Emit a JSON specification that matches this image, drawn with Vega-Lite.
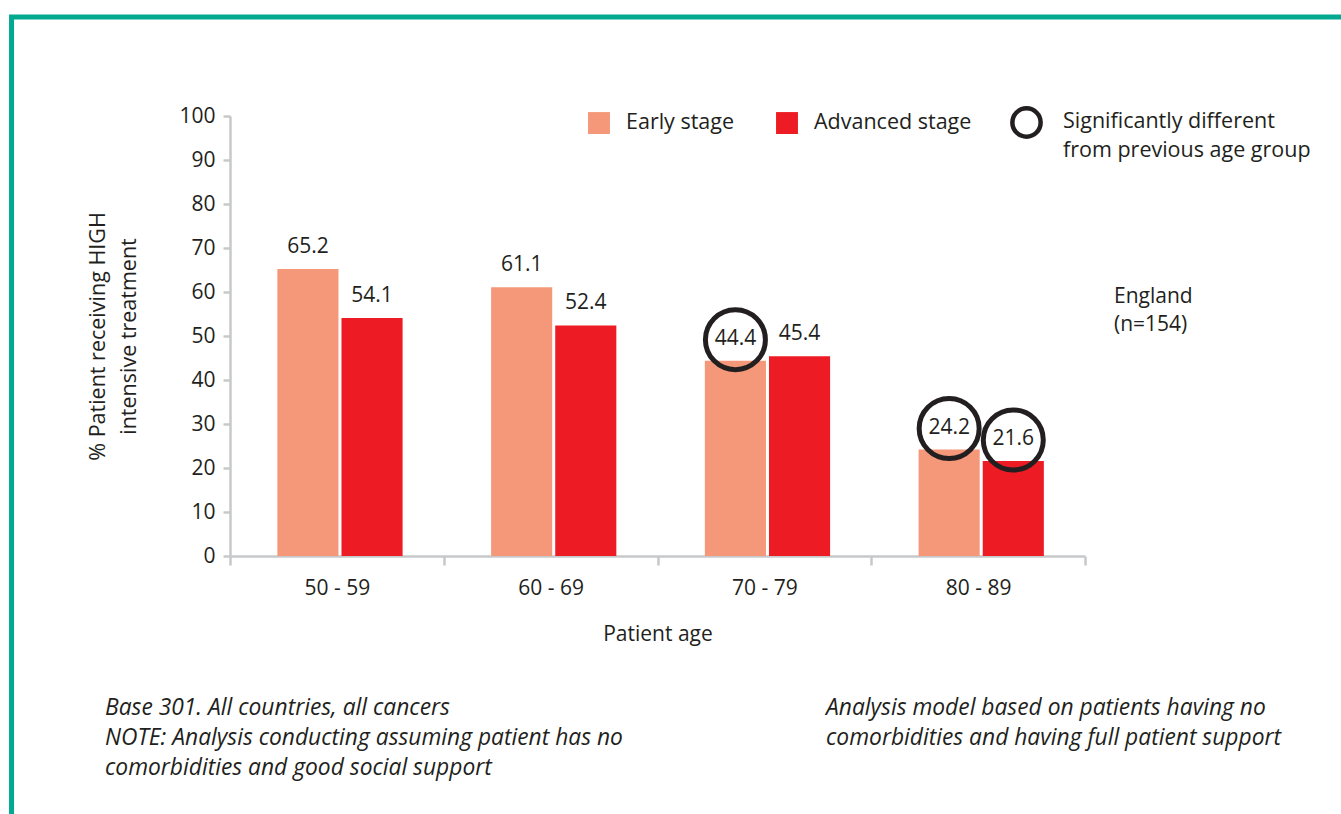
{
  "$schema": "https://vega.github.io/schema/vega-lite/v6.json",
  "width": 855,
  "height": 440,
  "autosize": {"type": "none"},
  "padding": {"left": 230, "top": 116, "right": 256, "bottom": 258},
  "background": "white",
  "config": {
    "font": "Open Sans",
    "view": {"stroke": null},
    "text": {"font": "Open Sans", "color": "#231F20"},
    "axis": {
      "domainColor": "#C7C8CA", "domainWidth": 2.5, "tickColor": "#C7C8CA", "tickWidth": 2.5,
      "labelColor": "#231F20", "titleColor": "#231F20", "labelFont": "Open Sans", "titleFont": "Open Sans",
      "titleFontWeight": "normal", "grid": false
    },
    "legend": {"labelColor": "#231F20", "labelFont": "Open Sans", "titleColor": "#231F20", "titleFont": "Open Sans"}
  },
  "datasets": {
    "bars": [
      {"age": "50 - 59", "stage": "Early stage", "value": 65.2, "sig": false},
      {"age": "50 - 59", "stage": "Advanced stage", "value": 54.1, "sig": false},
      {"age": "60 - 69", "stage": "Early stage", "value": 61.1, "sig": false},
      {"age": "60 - 69", "stage": "Advanced stage", "value": 52.4, "sig": false},
      {"age": "70 - 79", "stage": "Early stage", "value": 44.4, "sig": true},
      {"age": "70 - 79", "stage": "Advanced stage", "value": 45.4, "sig": false},
      {"age": "80 - 89", "stage": "Early stage", "value": 24.2, "sig": true},
      {"age": "80 - 89", "stage": "Advanced stage", "value": 21.6, "sig": true}
    ],
    "notes": [
      {"id": "left", "note": "Base 301. All countries, all cancers\nNOTE: Analysis conducting assuming patient has no\ncomorbidities and good social support"},
      {"id": "right", "note": "Analysis model based on patients having no\ncomorbidities and having full patient support"},
      {"id": "country", "note": "England\n(n=154)"}
    ],
    "frame": [{"part": "frame"}]
  },
  "resolve": {"scale": {"x": "independent", "y": "independent"}},
  "layer": [
    {
      "layer": [
        {
          "data": {"name": "frame"},
          "mark": {"type": "rect", "fill": "transparent", "stroke": "#00A98F", "strokeWidth": 5, "clip": false},
          "encoding": {
            "x": {"datum": -0.2555, "type": "quantitative", "scale": {"domain": [0, 1]}, "axis": null},
            "x2": {"datum": 1.6},
            "y": {"datum": 122.5, "type": "quantitative", "scale": {"domain": [0, 100]}, "axis": null},
            "y2": {"datum": -80}
          }
        },
        {
          "data": {"name": "notes"},
          "transform": [{"filter": "datum.id == 'left'"}],
          "mark": {"type": "text", "align": "left", "baseline": "top", "fontSize": 22.8, "fontStyle": "italic", "lineBreak": "\n", "lineHeight": 30},
          "encoding": {
            "x": {"datum": -0.1462, "type": "quantitative", "scale": {"domain": [0, 1]}, "axis": null},
            "y": {"datum": -32, "type": "quantitative", "scale": {"domain": [0, 100]}, "axis": null},
            "text": {"field": "note", "type": "nominal"}
          }
        },
        {
          "data": {"name": "notes"},
          "transform": [{"filter": "datum.id == 'right'"}],
          "mark": {"type": "text", "align": "left", "baseline": "top", "fontSize": 22.8, "fontStyle": "italic", "lineBreak": "\n", "lineHeight": 30},
          "encoding": {
            "x": {"datum": 0.6971, "type": "quantitative", "scale": {"domain": [0, 1]}, "axis": null},
            "y": {"datum": -32, "type": "quantitative", "scale": {"domain": [0, 100]}, "axis": null},
            "text": {"field": "note", "type": "nominal"}
          }
        },
        {
          "data": {"name": "notes"},
          "transform": [{"filter": "datum.id == 'country'"}],
          "mark": {"type": "text", "align": "left", "baseline": "top", "fontSize": 21, "lineBreak": "\n", "lineHeight": 28},
          "encoding": {
            "x": {"datum": 1.0339, "type": "quantitative", "scale": {"domain": [0, 1]}, "axis": null},
            "y": {"datum": 61.4, "type": "quantitative", "scale": {"domain": [0, 100]}, "axis": null},
            "text": {"field": "note", "type": "nominal"}
          }
        }
      ]
    },
    {
      "data": {"name": "bars"},
      "encoding": {
        "x": {
          "field": "age", "type": "nominal",
          "scale": {"paddingInner": 0, "paddingOuter": 0},
          "axis": {
            "title": "Patient age", "labelAngle": 0, "labelFontSize": 21, "titleFontSize": 21,
            "tickBand": "extent", "tickSize": 9, "labelPadding": 12, "titlePadding": 25
          }
        },
        "y": {
          "field": "value", "type": "quantitative",
          "scale": {"domain": [0, 100], "nice": false},
          "axis": {
            "title": ["% Patient receiving HIGH", "intensive treatment"],
            "titleFontSize": 21.5, "titleLineHeight": 31, "labelFontSize": 21,
            "values": [0, 10, 20, 30, 40, 50, 60, 70, 80, 90, 100], "labelOverlap": false,
            "tickSize": 7, "labelPadding": 8, "titlePadding": 38
          }
        }
      },
      "layer": [
        {
          "mark": {"type": "bar"},
          "encoding": {
            "xOffset": {"field": "stage", "sort": ["Early stage", "Advanced stage"], "scale": {"paddingInner": 0.047, "paddingOuter": 0.69, "align": 0.535}},
            "color": {
              "field": "stage", "type": "nominal",
              "scale": {"domain": ["Early stage", "Advanced stage"], "range": ["#F5987A", "#ED1C24"]},
              "legend": {
                "orient": "none", "legendX": 358, "legendY": -4, "direction": "horizontal", "title": null,
                "symbolType": "square", "symbolSize": 480, "symbolStrokeWidth": 0, "labelFontSize": 21.5,
                "labelOffset": 16, "columnPadding": 41
              }
            }
          }
        },
        {
          "mark": {"type": "text", "baseline": "middle", "dy": -22, "fontSize": 21},
          "encoding": {
            "xOffset": {"field": "stage", "sort": ["Early stage", "Advanced stage"], "scale": {"paddingInner": 0.047, "paddingOuter": 0.69, "align": 0.535}},
            "text": {"field": "value", "type": "quantitative", "format": ".1f"}
          }
        },
        {
          "transform": [{"filter": "datum.sig"}],
          "mark": {"type": "point", "shape": "circle", "filled": false, "size": 3600, "strokeWidth": 5, "yOffset": -21, "opacity": 1},
          "encoding": {
            "xOffset": {"field": "stage", "sort": ["Early stage", "Advanced stage"], "scale": {"paddingInner": 0.047, "paddingOuter": 0.69, "align": 0.535}},
            "stroke": {
              "datum": "sig",
              "scale": {"range": ["#231F20"]},
              "legend": {
                "orient": "none", "legendX": 780, "legendY": -10,
                "title": ["Significantly different", "from previous age group"],
                "titleOrient": "right", "titleFontSize": 21.5, "titleFontWeight": "normal", "titleLineHeight": 29,
                "titleBaseline": "top", "titlePadding": 13, "titleLimit": 500,
                "symbolType": "circle", "symbolSize": 800, "symbolStrokeWidth": 4.5,
                "labelExpr": "''", "labelOffset": 0
              }
            }
          }
        }
      ]
    }
  ]
}
